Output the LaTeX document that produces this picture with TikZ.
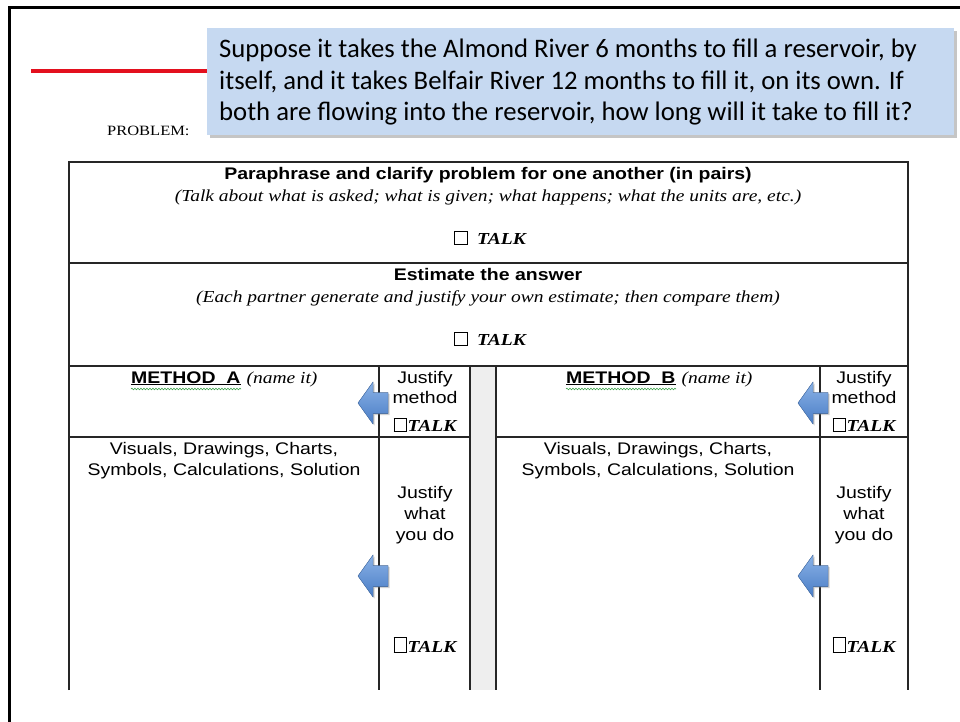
\documentclass[tikz,border=0pt]{standalone}
\usepackage{fontspec}
\setmainfont{Liberation Serif}
\setsansfont{Liberation Sans}
\newfontfamily\boxfont{Carlito}
\newfontfamily\Ts{Liberation Sans}[FakeStretch=1.16]
\newfontfamily\Tr{Liberation Serif}[FakeStretch=1.16]
\usetikzlibrary{shadows,decorations.pathmorphing}
\definecolor{boxblue}{HTML}{C6D9F1}
\definecolor{redline}{HTML}{E3101E}
\definecolor{graycol}{HTML}{EEEEEE}
\definecolor{arrtop}{HTML}{8AB2E6}
\definecolor{arrbot}{HTML}{4A7DC6}
\definecolor{arredge}{HTML}{4A77B4}
\definecolor{squig}{HTML}{3FA34D}
\newcommand{\tickbox}[2]{{\setlength{\fboxsep}{0pt}\setlength{\fboxrule}{0.9pt}\fbox{\rule{0pt}{#2}\hspace{#1}}}}
\tikzset{
  hdr/.style={font=\Ts\bfseries\fontsize{16.8}{20}\selectfont, inner sep=0pt, anchor=base},
  ital/.style={font=\Tr\itshape\fontsize{16.8}{20}\selectfont, inner sep=0pt, anchor=base},
  plain/.style={font=\Ts\fontsize{16.8}{20}\selectfont, inner sep=0pt, anchor=base},
  talk/.style={font=\Tr\bfseries\itshape\fontsize{16.8}{20}\selectfont, inner sep=0pt, anchor=base},
  boxtxt/.style={font=\boxfont\fontsize{26.7}{32}\selectfont, inner sep=0pt, anchor=base west},
  tline/.style={line width=1.1pt, draw=black!85},
  bluearrow/.style={draw=arredge, line width=0.4pt, top color=arrtop, bottom color=arrbot,
     drop shadow={opacity=0.35, shadow xshift=1.5pt, shadow yshift=-1.5pt}},
}
\newcommand{\leftarrowshape}[2]{% tip x, center y
  (#1,#2) -- ++(15,-21) -- ++(0,10.5) -- ++(15,0) -- ++(0,21) -- ++(-15,0) -- ++(0,10.5) -- cycle}
\begin{document}
\begin{tikzpicture}[x=1pt,y=-1pt]
\useasboundingbox (0,0) rectangle (960,722);
\fill[white] (0,0) rectangle (960,722);
% slide frame
\draw[line width=3pt] (9,722) -- (9,8) -- (960,8);
% red title line
\draw[redline, line width=4.5pt] (31,71) -- (208,71);
% problem box
\fill[boxblue, drop shadow={opacity=0.45, shadow xshift=3pt, shadow yshift=-3pt}] (207,28) rectangle (954,135);
\node[boxtxt] (p1) at (219,58) {Suppose it takes the Almond River 6 months to fill a reservoir, by};
\node[boxtxt] (p2) at (219,90) {itself, and it takes Belfair River 12 months to fill it, on its own. If};
\node[boxtxt] (p3) at (219,121) {both are flowing into the reservoir, how long will it take to fill it?};
\node[font=\Tr\fontsize{14.2}{16}\selectfont, inner sep=0pt, anchor=base west] (prob) at (107,136) {PROBLEM:};
% table
\fill[graycol] (470,366) rectangle (496,690);
\draw[tline] (69,690) -- (69,162) -- (908,162) -- (908,690);
\draw[tline] (69,263) -- (908,263);
\draw[tline] (69,366) -- (908,366);
\draw[tline] (69,437) -- (470,437);
\draw[tline] (496,437) -- (908,437);
\draw[tline] (379,366) -- (379,690);
\draw[tline] (470,366) -- (470,690);
\draw[tline] (496,366) -- (496,690);
\draw[tline] (820,366) -- (820,690);
% header rows
\node[hdr] (h1) at (488,179) {Paraphrase and clarify problem for one another (in pairs)};
\node[ital] (h1b) at (488,201) {(Talk about what is asked; what is given; what happens; what the units are, etc.)};
\node[talk] (t1) at (490,244) {\tickbox{12pt}{12pt}\hspace{9pt}TALK};
\node[hdr] (h2) at (488,280) {Estimate the answer};
\node[ital] (h2b) at (488,302) {(Each partner generate and justify your own estimate; then compare them)};
\node[talk] (t2) at (490,345) {\tickbox{12pt}{12pt}\hspace{9pt}TALK};
% arrows
\fill[bluearrow] \leftarrowshape{358}{403};
\fill[bluearrow] \leftarrowshape{358}{576};
\fill[bluearrow] \leftarrowshape{798}{403};
\fill[bluearrow] \leftarrowshape{798}{576};
% method A
\node[inner sep=0pt, anchor=base west] (ma) at (131,383) {{\Ts\bfseries\fontsize{16.8}{20}\selectfont\underline{METHOD\ \ A}}\hspace{6pt}{\Tr\itshape\fontsize{16.8}{20}\selectfont(name it)}};
\draw[squig, line width=0.6pt, decorate, decoration={snake, amplitude=0.8pt, segment length=3pt}] (131,389) -- (241,389);
\node[plain] (ja1) at (425,383) {Justify};
\node[plain] (ja2) at (425,403) {method};
\node[talk] (ja3) at (425,431) {\tickbox{11pt}{12pt}\hspace{1pt}TALK};
\node[plain] (va1) at (224,454) {Visuals, Drawings, Charts,};
\node[plain] (va2) at (224,475) {Symbols, Calculations, Solution};
\node[plain] (wa1) at (425,498) {Justify};
\node[plain] (wa2) at (425,519) {what};
\node[plain] (wa3) at (425,540) {you do};
\node[talk] (ta) at (425,652) {\tickbox{11pt}{14pt}\hspace{1pt}TALK};
% method B
\node[inner sep=0pt, anchor=base west] (mb) at (566,383) {{\Ts\bfseries\fontsize{16.8}{20}\selectfont\underline{METHOD\ \ B}}\hspace{6pt}{\Tr\itshape\fontsize{16.8}{20}\selectfont(name it)}};
\draw[squig, line width=0.6pt, decorate, decoration={snake, amplitude=0.8pt, segment length=3pt}] (566,389) -- (676,389);
\node[plain] (jb1) at (864,383) {Justify};
\node[plain] (jb2) at (864,403) {method};
\node[talk] (jb3) at (864,431) {\tickbox{11pt}{12pt}\hspace{1pt}TALK};
\node[plain] (vb1) at (658,454) {Visuals, Drawings, Charts,};
\node[plain] (vb2) at (658,475) {Symbols, Calculations, Solution};
\node[plain] (wb1) at (864,498) {Justify};
\node[plain] (wb2) at (864,519) {what};
\node[plain] (wb3) at (864,540) {you do};
\node[talk] (tb) at (864,652) {\tickbox{11pt}{14pt}\hspace{1pt}TALK};
\end{tikzpicture}
\end{document}
